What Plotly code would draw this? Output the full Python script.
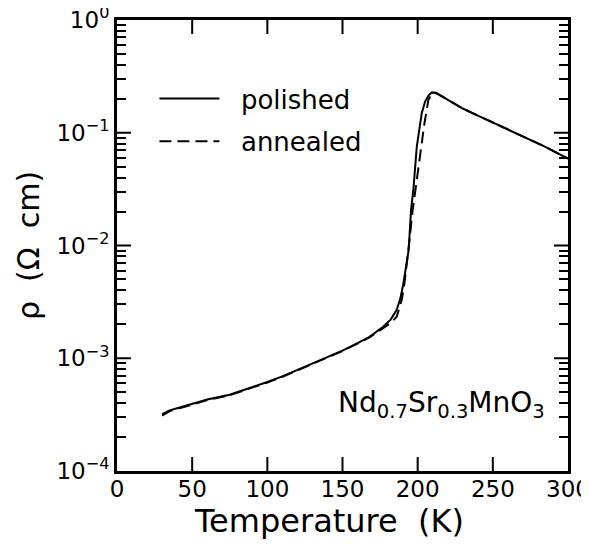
import plotly.graph_objects as go

# Polished sample
T_pol = [30, 35, 40, 50, 60, 75, 90, 100, 110, 122, 135, 150, 160, 168, 177, 182, 186,
         188.5, 190.5, 192.3, 194, 195.6, 197.2, 199.4, 201, 202.7, 205, 207.3, 209.4,
         212, 215, 222, 230, 240, 250, 260, 270, 285, 300]
rho_pol = [3.2e-4, 3.45e-4, 3.6e-4, 3.95e-4, 4.3e-4, 4.75e-4, 5.5e-4, 6.15e-4, 6.9e-4, 8.1e-4,
           9.6e-4, 1.17e-3, 1.36e-3, 1.55e-3, 1.9e-3, 2.2e-3, 2.68e-3,
           3.4e-3, 4.6e-3, 6.6e-3, 9.1e-3, 0.0207, 0.032, 0.075, 0.11, 0.149, 0.19, 0.215, 0.228,
           0.226, 0.215, 0.19, 0.164, 0.142, 0.123, 0.106, 0.092, 0.075, 0.059]

# Annealed sample
T_ann = [30, 35, 40, 50, 60, 75, 90, 100, 110, 122, 135, 150, 160, 168, 177, 182, 186.1,
         189.4, 191, 192.7, 194.5, 196.7, 198, 199.4, 201.6, 203, 204.5, 207.1, 209, 211, 213, 215,
         222, 230, 240, 250, 260, 270, 285, 300]
rho_ann = [3.1e-4, 3.4e-4, 3.55e-4, 3.9e-4, 4.25e-4, 4.7e-4, 5.45e-4, 6.1e-4, 6.85e-4, 8.0e-4,
           9.5e-4, 1.16e-3, 1.35e-3, 1.53e-3, 1.85e-3, 2.05e-3, 2.34e-3,
           3.3e-3, 4.4e-3, 6.5e-3, 1.1e-2, 0.0207, 0.028, 0.04, 0.061, 0.085, 0.121, 0.195, 0.218, 0.226,
           0.223, 0.215, 0.19, 0.164, 0.142, 0.123, 0.106, 0.092, 0.075, 0.059]

x_ticks = [0, 50, 100, 150, 200, 250, 300]
y_ticks = [1e-4, 1e-3, 1e-2, 1e-1, 1]
y_ticktext = ["10<sup>−4</sup>", "10<sup>−3</sup>", "10<sup>−2</sup>", "10<sup>−1</sup>", "10<sup>0</sup>"]
y_minor = [m * 10 ** e for e in range(-4, 0) for m in range(2, 10)]

FONT = "DejaVu Sans"
MAJOR_LEN = 14

fig = go.Figure()
fig.add_trace(go.Scatter(x=T_pol, y=rho_pol, mode="lines", name="  polished",
                         line=dict(color="black", width=2), legendgroup="a"))
fig.add_trace(go.Scatter(x=T_ann, y=rho_ann, mode="lines", name="  annealed",
                         line=dict(color="black", width=2, dash="12px,6px"), legendgroup="b"))
# invisible carrier trace for the minor-tick overlay axis
fig.add_trace(go.Scatter(x=T_pol, y=rho_pol, mode="lines", yaxis="y2", showlegend=False,
                         hoverinfo="skip", line=dict(color="rgba(0,0,0,0)", width=0)))

fig.update_layout(
    width=581, height=540,
    margin=dict(l=109, r=21, t=12, b=77),
    plot_bgcolor="white", paper_bgcolor="white",
    font=dict(family=FONT, color="black", size=23),
    showlegend=True,
    legend=dict(x=0.083, y=0.878, xanchor="left", yanchor="top",
                font=dict(size=26, family=FONT), itemwidth=60,
                bgcolor="rgba(0,0,0,0)", tracegroupgap=6, traceorder="grouped"),
    xaxis=dict(range=[0, 300], tickvals=x_ticks, ticks="", automargin=False,
               ticklabeloverflow="allow", ticklabelstandoff=-5,
               showline=True, linewidth=3, linecolor="black", mirror=True,
               showgrid=False, zeroline=False, tickfont=dict(size=23)),
    yaxis=dict(type="log", range=[-4, 0], tickvals=y_ticks, ticktext=y_ticktext,
               ticks="", automargin=False, ticklabeloverflow="allow",
               showline=True, linewidth=3, linecolor="black", mirror=True,
               showgrid=False, zeroline=False, tickfont=dict(size=23),
               title=dict(text="ρ  (Ω  cm)", font=dict(size=30), standoff=8)),
    # minor y ticks (left and mirrored right)
    yaxis2=dict(type="log", range=[-4, 0], overlaying="y", side="left", tickvals=y_minor,
                ticks="inside", ticklen=9, tickwidth=2, tickcolor="black", automargin=False,
                showticklabels=False, showline=False, mirror="ticks",
                showgrid=False, zeroline=False),
)

# major tick marks, placed at the tick values through the axes (pixel-length lines)
tick_line = dict(color="black", width=2)
for xv in x_ticks[1:-1]:
    fig.add_shape(type="line", xref="x", yref="paper", ysizemode="pixel", yanchor=0,
                  x0=xv, x1=xv, y0=0, y1=MAJOR_LEN, line=tick_line, layer="above")
    fig.add_shape(type="line", xref="x", yref="paper", ysizemode="pixel", yanchor=1,
                  x0=xv, x1=xv, y0=-MAJOR_LEN, y1=0, line=tick_line, layer="above")
for yv in y_ticks[1:-1]:
    fig.add_shape(type="line", xref="paper", yref="y", xsizemode="pixel", xanchor=0,
                  x0=0, x1=MAJOR_LEN, y0=yv, y1=yv, line=tick_line, layer="above")
    fig.add_shape(type="line", xref="paper", yref="y", xsizemode="pixel", xanchor=1,
                  x0=-MAJOR_LEN, x1=0, y0=yv, y1=yv, line=tick_line, layer="above")

fig.add_annotation(x=0.471, y=-0.11, xref="paper", yref="paper", xanchor="center", yanchor="middle",
                   text="Temperature  (K)", showarrow=False, font=dict(size=32, family=FONT))

fig.add_annotation(x=0.953, y=0.148, xref="paper", yref="paper", xanchor="right", yanchor="middle",
                   text="Nd<sub>0.7</sub>Sr<sub>0.3</sub>MnO<sub>3</sub>", showarrow=False,
                   font=dict(size=28, family=FONT))

fig.write_html("out.html")
